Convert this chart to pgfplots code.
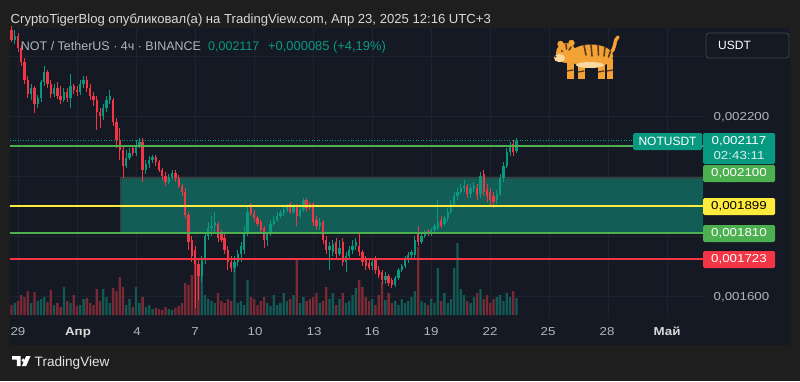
\documentclass[border=0pt]{standalone}
\usepackage{pgfplots}
\pgfplotsset{compat=1.18}
\usepackage{pgfplotstable}
\usepackage{fontspec}
\setmainfont{Liberation Sans}
\newfontfamily\pricefont[FakeStretch=1.16]{Liberation Sans}
\definecolor{outerbg}{HTML}{1E1E1E}
\definecolor{panelbg}{HTML}{151924}
\definecolor{gridc}{HTML}{1F2330}
\definecolor{tvgreen}{HTML}{089981}
\definecolor{tvred}{HTML}{F23645}
\definecolor{volgreen}{HTML}{145A54}
\definecolor{volred}{HTML}{7A2A34}
\definecolor{zonefill}{HTML}{125E57}
\definecolor{zoneedge}{HTML}{2E4642}
\definecolor{lvgreen}{HTML}{4CAF50}
\definecolor{lvyellow}{HTML}{FFEB3B}
\definecolor{lvred}{HTML}{F23645}
\definecolor{txtgray}{HTML}{B2B5BE}
\definecolor{txtlight}{HTML}{D9D9D9}
\definecolor{tigerc}{HTML}{F4A236}
\definecolor{tigerdark}{HTML}{5A3A1A}
\definecolor{tigerlight}{HTML}{FAD9A0}
\definecolor{boxedge}{HTML}{434651}

\pgfplotstableread{
i o h l c v
1 2453 2487 2440 2467 12
6 2273 2307 2253 2293 12
8 2240 2270 2227 2260 14
9 2260 2320 2247 2313 16
10 2313 2367 2300 2347 18
13 2273 2307 2263 2293 10
16 2253 2293 2247 2280 28
18 2260 2340 2227 2300 12
21 2280 2320 2270 2307 10
22 2307 2333 2293 2320 16
28 2200 2240 2187 2227 26
29 2227 2267 2213 2253 18
30 2253 2287 2240 2267 12
35 2033 2087 2027 2060 10
36 2060 2093 2053 2077 16
38 2077 2120 2067 2103 28
39 2103 2127 2093 2113 12
41 2020 2053 2007 2040 8
42 2040 2067 2027 2053 10
43 2053 2070 2043 2063 6
48 1980 2007 1973 1997 6
49 1997 2020 1987 2010 5
58 1667 1733 1647 1720 52
59 1720 1813 1707 1800 20
60 1800 1847 1787 1827 16
61 1827 1867 1800 1833 14
62 1833 1880 1807 1847 12
68 1693 1733 1680 1713 48
69 1713 1753 1700 1740 12
70 1740 1780 1713 1767 14
71 1753 1833 1740 1813 10
72 1813 1900 1800 1880 35
78 1787 1813 1767 1807 12
79 1807 1853 1800 1840 9
80 1840 1867 1833 1853 20
81 1853 1880 1847 1867 10
82 1867 1887 1860 1877 12
83 1877 1900 1867 1887 22
84 1887 1907 1880 1897 14
86 1880 1907 1873 1900 20
88 1867 1900 1860 1887 12
89 1887 1927 1880 1920 18
94 1833 1860 1820 1847 12
97 1753 1780 1687 1767 16
98 1747 1787 1733 1773 22
100 1740 1787 1733 1760 16
102 1713 1747 1680 1733 12
103 1733 1767 1727 1753 14
104 1753 1787 1740 1767 20
105 1767 1793 1753 1780 27
110 1700 1727 1687 1713 16
114 1653 1680 1640 1667 15
117 1637 1667 1630 1660 14
118 1660 1693 1653 1687 10
119 1687 1707 1680 1700 16
120 1700 1733 1693 1720 12
121 1720 1747 1710 1737 14
122 1737 1753 1727 1747 18
123 1737 1800 1727 1787 24
125 1780 1813 1773 1800 14
126 1800 1820 1793 1810 12
128 1807 1827 1800 1820 16
129 1820 1840 1810 1833 12
130 1827 1920 1820 1847 47
132 1840 1867 1833 1860 22
133 1860 1893 1847 1880 12
134 1880 1920 1873 1907 16
135 1907 1947 1900 1933 47
136 1933 1960 1920 1947 72
137 1947 1973 1940 1960 26
138 1960 1987 1947 1967 20
140 1940 1973 1927 1960 12
141 1960 1980 1947 1967 18
143 1940 2013 1927 2000 26
148 1920 1953 1907 1940 18
149 1940 2007 1933 1993 20
150 1993 2047 1980 2033 14
151 2033 2093 2027 2080 22
152 2080 2113 2067 2100 18
154 2083 2127 2077 2117 17
}\updata

\pgfplotstableread{
i o h l c v
0 2487 2500 2447 2453 10
2 2467 2477 2413 2427 14
3 2427 2437 2367 2380 20
4 2380 2393 2307 2320 18
5 2320 2333 2260 2273 24
7 2293 2300 2210 2240 23
11 2347 2353 2293 2307 13
12 2307 2320 2260 2273 25
14 2293 2313 2257 2267 12
15 2267 2300 2240 2253 8
17 2280 2293 2247 2260 14
19 2300 2307 2273 2287 20
20 2287 2300 2267 2280 9
23 2320 2333 2280 2293 17
24 2293 2307 2253 2267 12
25 2267 2280 2233 2253 10
26 2253 2267 2153 2213 26
27 2213 2227 2160 2200 14
31 2253 2260 2167 2180 27
32 2180 2193 2093 2120 24
33 2120 2160 2053 2087 38
34 2087 2100 1993 2033 28
37 2093 2103 2067 2077 8
40 2113 2127 1980 2020 18
44 2063 2070 2033 2047 7
45 2047 2053 2013 2020 6
46 2020 2027 1987 2000 5
47 2000 2013 1967 1980 8
50 2010 2020 1980 1993 7
51 1993 2003 1960 1967 9
52 1967 1973 1933 1947 12
53 1947 1960 1860 1870 32
54 1870 1880 1753 1780 30
55 1787 1800 1713 1733 40
56 1753 1767 1560 1707 55
57 1707 1727 1587 1667 45
63 1840 1847 1780 1793 22
64 1813 1820 1780 1787 14
65 1793 1813 1740 1753 12
66 1753 1767 1687 1713 16
67 1713 1733 1680 1693 14
73 1900 1910 1867 1873 18
74 1873 1887 1847 1860 16
75 1860 1867 1833 1840 10
76 1847 1853 1813 1820 14
77 1827 1833 1760 1787 18
85 1907 1913 1873 1880 16
87 1900 1907 1833 1867 55
90 1920 1927 1880 1893 14
91 1907 1913 1887 1893 16
92 1907 1913 1833 1847 18
93 1853 1867 1820 1833 22
95 1847 1853 1773 1787 14
96 1787 1800 1740 1753 28
99 1780 1793 1727 1740 10
101 1780 1793 1700 1713 22
106 1767 1813 1733 1747 35
107 1747 1753 1700 1713 28
108 1720 1733 1687 1700 18
109 1710 1727 1687 1693 14
111 1720 1733 1673 1687 10
112 1687 1700 1660 1670 20
113 1680 1687 1640 1653 33
115 1667 1673 1633 1643 22
116 1653 1660 1627 1637 12
124 1807 1833 1767 1780 68
127 1817 1823 1800 1807 10
131 1853 1867 1827 1833 14
139 1967 1973 1927 1940 14
142 1960 1973 1920 1937 22
144 2007 2020 1933 1947 16
145 1953 1973 1913 1933 20
146 1947 1960 1903 1920 12
147 1933 1947 1893 1913 16
153 2107 2120 2067 2080 24
}\downdata

\pgfplotsset{candle/.style={draw=none, mark=none, forget plot,
  error bars/.cd, y dir=both, y explicit, error mark=none}}

\begin{document}
\begin{tikzpicture}[x=1pt,y=1pt]
\fill[outerbg] (0,0) rectangle (800,381);
\fill[panelbg] (10,36) rectangle (790,353);

% grid + zone
\begin{axis}[at={(10pt,63pt)}, anchor=south west, scale only axis,
  width=693pt, height=290pt,
  xmin=-0.44, xmax=210.85, ymin=1526.7, ymax=2493.3,
  axis line style={draw=none}, tick style={draw=none},
  xtick={2,20,...,200}, ytick={1600,1800,...,2400},
  xticklabels={}, yticklabels={}, tick label style={text opacity=0},
  grid=major, grid style={gridc, line width=0.8pt}]
\addplot[fill=zonefill, draw=zoneedge, line width=2.5pt] coordinates {(33.4,1810) (212,1810) (212,1993) (33.4,1993)} -- cycle;
\end{axis}

% volume
\begin{axis}[at={(10pt,63pt)}, anchor=south west, scale only axis,
  width=693pt, height=290pt,
  xmin=-0.44, xmax=210.85, ymin=-3, ymax=287, hide axis]
\addplot[ybar, bar width=2.3pt, bar shift=0pt, fill=volgreen, draw=none] table[x=i,y=v]{\updata};
\addplot[ybar, bar width=2.3pt, bar shift=0pt, fill=volred, draw=none] table[x=i,y=v]{\downdata};
\end{axis}

% candles and levels
\begin{axis}[at={(10pt,63pt)}, anchor=south west, scale only axis,
  width=693pt, height=290pt, clip=false,
  xmin=-0.44, xmax=210.85, ymin=1526.7, ymax=2493.3, hide axis]
% wicks
\addplot[candle, error bar style={line width=0.9pt, draw=tvgreen}]
  table[x=i, y expr={(\thisrow{h}+\thisrow{l})/2}, y error expr={(\thisrow{h}-\thisrow{l})/2}]{\updata};
\addplot[candle, error bar style={line width=0.9pt, draw=tvred}]
  table[x=i, y expr={(\thisrow{h}+\thisrow{l})/2}, y error expr={(\thisrow{h}-\thisrow{l})/2}]{\downdata};
% bodies
\addplot[candle, error bar style={line width=2.3pt, draw=tvgreen}]
  table[x=i, y expr={(\thisrow{o}+\thisrow{c})/2}, y error expr={abs(\thisrow{c}-\thisrow{o})/2}]{\updata};
\addplot[candle, error bar style={line width=2.3pt, draw=tvred}]
  table[x=i, y expr={(\thisrow{o}+\thisrow{c})/2}, y error expr={abs(\thisrow{c}-\thisrow{o})/2}]{\downdata};
% levels
\addplot[tvgreen, line width=0.9pt, dash pattern=on 1pt off 1.6pt] coordinates {(-0.44,2117) (189.5,2117)};
\addplot[lvgreen, line width=2pt] coordinates {(-0.44,2100) (210.85,2100)};
\addplot[lvyellow, line width=2.2pt] coordinates {(-0.44,1899) (210.85,1899)};
\addplot[lvgreen, line width=2.2pt] coordinates {(-0.44,1810) (210.85,1810)};
\addplot[lvred, line width=2pt] coordinates {(-0.44,1723) (210.85,1723)};
\end{axis}

% header
\node[anchor=base west, inner sep=0, text=txtlight, font=\fontsize{13.1}{15}\selectfont] at (10.5,357.7)
  {CryptoTigerBlog опубликовал(а) на TradingView.com, Апр 23, 2025 12:16 UTC+3};
\node[anchor=base west, inner sep=0, text=txtgray, font=\fontsize{12.5}{14}\selectfont] at (20.7,330)
  {NOT / TetherUS · 4ч · BINANCE};
\node[anchor=base west, inner sep=0, text=tvgreen, font=\fontsize{12.5}{14}\selectfont] at (208,330) {0,002117};
\node[anchor=base west, inner sep=0, text=tvgreen, font=\fontsize{12.9}{14}\selectfont] at (268,330) {+0,000085 (+4,19\%)};

% tiger (drawn)
\begin{scope}
\draw[tigerc, line width=3.4pt, line cap=round] (609,328) .. controls (617,331) and (613,341) .. (618,344);
\fill[tigerc] (567,302) rectangle (573.5,322);
\fill[tigerc] (578,302) rectangle (584.5,320);
\fill[tigerc] (598,302) rectangle (604.5,320);
\fill[tigerc] (606.5,302) rectangle (613,322);
\fill[tigerc] (591,325) ellipse (22 and 11.5);
\fill[tigerc] (566,328) circle (10);
\fill[tigerc] (560.5,337) circle (3.2);
\fill[tigerc] (571.5,338) circle (3.2);
\fill[tigerlight] (559.5,323) ellipse (5.5 and 4.2);
\fill[tigerlight] (590,316) ellipse (14 and 3);
\fill[tigerdark] (562,330) circle (1.2);
\fill[tigerdark] (555.5,324.5) circle (1.1);
\draw[tigerdark, line width=1.6pt, line cap=round] (584,336)--(586,326) (591,336.5)--(592,325) (598,336)--(598.5,326) (605,333.5)--(604,325) (610.5,330)--(608.5,324) (566,337)--(566.5,332) (571,334)--(569,331);
\draw[tigerdark, line width=1.3pt, line cap=round] (567,310)--(573,311) (578,309)--(584,310) (598,309)--(604,310) (607,310)--(613,311);
\end{scope}

% USDT box
\draw[boxedge, line width=0.8pt, fill=panelbg, rounded corners=3pt] (706,323) rectangle (789,348);
\node[anchor=base west, inner sep=0, text=white, font=\fontsize{12}{14}\selectfont] at (718,331) {USDT};

% date labels
\begin{scope}[font=\pricefont\fontsize{11.5}{13}\selectfont, text=txtgray]
\node[anchor=base, inner sep=0] at (18,45.3) {29};
\node[anchor=base, inner sep=0, text=txtlight] at (78,45.3) {\bfseries Апр};
\node[anchor=base, inner sep=0] at (137,45.3) {4};
\node[anchor=base, inner sep=0] at (195,45.3) {7};
\node[anchor=base, inner sep=0] at (255,45.3) {10};
\node[anchor=base, inner sep=0] at (314,45.3) {13};
\node[anchor=base, inner sep=0] at (372,45.3) {16};
\node[anchor=base, inner sep=0] at (431,45.3) {19};
\node[anchor=base, inner sep=0] at (490,45.3) {22};
\node[anchor=base, inner sep=0] at (548,45.3) {25};
\node[anchor=base, inner sep=0] at (607,45.3) {28};
\node[anchor=base, inner sep=0, text=txtlight] at (667,45.3) {\bfseries Май};
\end{scope}

% price scale
\begin{scope}[font=\pricefont\fontsize{11.5}{13}\selectfont]
\node[anchor=base, inner sep=0, text=txtgray] at (741.5,261) {0,002200};
\node[anchor=base, inner sep=0, text=txtgray] at (741.5,81) {0,001600};
\fill[tvgreen, rounded corners=1.5pt] (633,231) rectangle (702,248);
\node[text=white, inner sep=0, font=\fontsize{12}{14}\selectfont] at (667.5,239.5) {NOTUSDT};
\fill[tvgreen, rounded corners=1.5pt] (703,217) rectangle (775,248);
\node[text=white, inner sep=0] at (739,240) {0,002117};
\node[text=white!85!tvgreen, inner sep=0] at (739,225.5) {02:43:11};
\fill[lvgreen, rounded corners=1.5pt] (703,199) rectangle (775,216);
\node[text=white, inner sep=0] at (739,207.5) {0,002100};
\fill[lvyellow, rounded corners=1.5pt] (703,166) rectangle (775,183);
\node[text=black, inner sep=0] at (739,174.5) {0,001899};
\fill[lvgreen, rounded corners=1.5pt] (703,139) rectangle (775,156);
\node[text=white, inner sep=0] at (739,147.5) {0,001810};
\fill[lvred, rounded corners=1.5pt] (703,113) rectangle (775,130);
\node[text=white, inner sep=0] at (739,121.5) {0,001723};
\end{scope}

% footer
\fill[white] (12,25)--(20.5,25)--(20.5,15)--(16.8,15)--(16.8,21.3)--(12,21.3)--cycle;
\fill[white] (23.2,20.8) circle (1.9);
\fill[white] (26.2,25)--(30.5,25)--(26.2,15)--(21.9,15)--cycle;
\node[anchor=base west, inner sep=0, text=white!90!black, font=\fontsize{13.6}{15}\selectfont] at (34.5,15) {TradingView};

\pgfresetboundingbox
\useasboundingbox (0,0) rectangle (800,381);
\end{tikzpicture}
\end{document}
